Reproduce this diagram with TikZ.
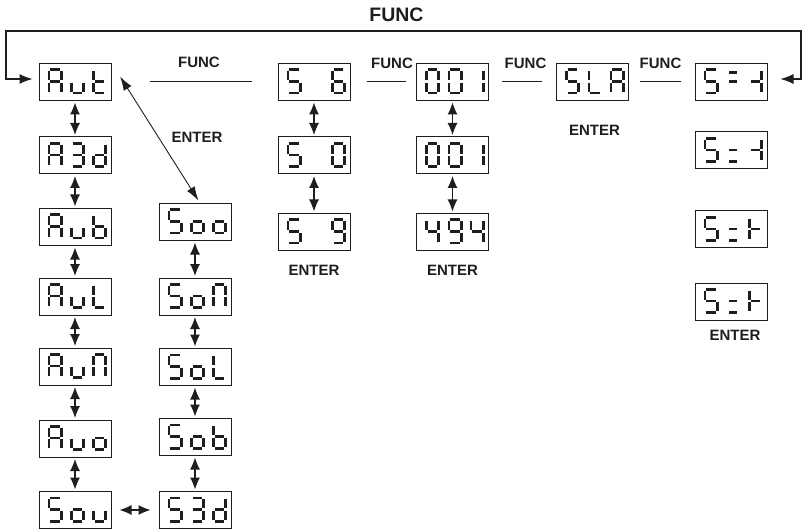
\documentclass[tikz,border=0pt]{standalone}
\usepackage{fontspec}
\setmainfont{Liberation Sans}
\usetikzlibrary{arrows.meta}
\definecolor{ink}{HTML}{1E1E1E}
% seven-segment pieces (glyph cell 15 x 26, y downward)
\def\spa{\draw[seg] (2.9,1.4)--(12.1,1.4);}
\def\spb{\draw[seg] (13.6,2.7)--(13.6,11.9);}
\def\spc{\draw[seg] (13.6,14.1)--(13.6,23.3);}
\def\spd{\draw[seg] (2.9,24.6)--(12.1,24.6);}
\def\spe{\draw[seg] (1.4,14.1)--(1.4,23.3);}
\def\spf{\draw[seg] (1.4,2.7)--(1.4,11.9);}
\def\spg{\draw[seg] (2.9,13)--(12.1,13);}
\def\spp{\draw[seg] (3,4)--(11,4);}
\def\spq{\draw[seg] (3,13)--(11,13);}
\def\spr{\draw[seg] (3,24.6)--(11,24.6);}
\def\gA{a,b,c,e,f,g}
\def\gu{c,d,e}
\def\gt{d,e,f,g}
\def\gThree{a,b,c,d,g}
\def\gd{b,c,d,e,g}
\def\gb{c,d,e,f,g}
\def\gL{d,e,f}
\def\gM{a,b,c,e,f}
\def\go{c,d,e,g}
\def\gS{a,c,d,f,g}
\def\gZero{a,b,c,d,e,f}
\def\gSix{a,c,d,e,f,g}
\def\gNine{a,b,c,d,f,g}
\def\gOne{b,c}
\def\gFour{b,c,f,g}
\def\gRt{b,c,g}
\def\gLt{e,f,g}
\def\gEqU{p,q}
\def\gEqD{q,r}
\def\gNone{x}
\newcommand\segglyph[3]{\begin{scope}[shift={({#1},{#2})}]\foreach \s in #3 {\csname sp\s\endcsname}\end{scope}}
\newcommand\dispbox[6]{%
  \node[dbox] (#1) at (#2,#3) {};
  \segglyph{#2-27.5}{#3-13.5}{#4}
  \segglyph{#2-5}{#3-13.5}{#5}
  \segglyph{#2+17}{#3-13.5}{#6}}
\tikzset{
  seg/.style={draw=ink, line width=2.8pt, line cap=butt},
  dbox/.style={draw=ink, line width=1pt, minimum width=72pt, minimum height=37pt, inner sep=0pt},
  lab/.style={font=\bfseries\fontsize{15}{15}\selectfont, text=ink, inner sep=0pt},
  toplab/.style={font=\bfseries\fontsize{19.5}{19.5}\selectfont, text=ink, inner sep=0pt},
  dbl/.style={{Latex[length=12pt,width=10pt]}-{Latex[length=12pt,width=10pt]}, line width=1.1pt, draw=ink, shorten <=1.5pt, shorten >=1.5pt},
  diag/.style={{Latex[length=14pt,width=9pt]}-{Latex[length=14pt,width=9pt]}, line width=0.9pt, draw=ink},
  fl/.style={draw=ink, line width=1pt},
  loopline/.style={{Latex[length=13pt,width=10pt]}-{Latex[length=13pt,width=10pt]}, line width=1.1pt, draw=ink}
}
\begin{document}
\begin{tikzpicture}[x=1pt,y=-1pt]
\useasboundingbox (0,0) rectangle (805,529);
% left column
\dispbox{aut}{75}{82}{\gA}{\gu}{\gt}
\dispbox{a3d}{75}{155.5}{\gA}{\gThree}{\gd}
\dispbox{aub}{75}{227}{\gA}{\gu}{\gb}
\dispbox{aul}{75}{296.5}{\gA}{\gu}{\gL}
\dispbox{aum}{75}{366.5}{\gA}{\gu}{\gM}
\dispbox{auo}{75}{438.5}{\gA}{\gu}{\go}
\dispbox{sou}{75}{510}{\gS}{\go}{\gu}
% second column
\dispbox{soo}{195}{222}{\gS}{\go}{\go}
\dispbox{som}{195}{296.5}{\gS}{\go}{\gM}
\dispbox{sol}{195}{367}{\gS}{\go}{\gL}
\dispbox{sob}{195}{437}{\gS}{\go}{\gb}
\dispbox{s3d}{195}{510}{\gS}{\gThree}{\gd}
% S column
\dispbox{s6}{314}{82}{\gS}{\gNone}{\gSix}
\dispbox{s0}{314}{155.5}{\gS}{\gNone}{\gZero}
\dispbox{s9}{314}{232}{\gS}{\gNone}{\gNine}
% number column
\dispbox{na}{452.5}{82}{\gZero}{\gZero}{\gOne}
\dispbox{nb}{452.5}{155.5}{\gZero}{\gZero}{\gOne}
\dispbox{nc}{452.5}{232}{\gFour}{\gNine}{\gFour}
% SLA
\dispbox{sla}{592.5}{82}{\gS}{\gL}{\gA}
% right column
\dispbox{ra}{731}{82}{\gS}{\gEqU}{\gRt}
\dispbox{rb}{731}{150.5}{\gS}{\gEqD}{\gRt}
\dispbox{rc}{731}{229.5}{\gS}{\gEqD}{\gLt}
\dispbox{rd}{731}{301.5}{\gS}{\gEqD}{\gLt}
% labels
\node[toplab] (ftop) at (396.5,14.5) {FUNC};
\node[lab] (fa) at (199,62.5) {FUNC};
\node[lab] (fb) at (392,63) {FUNC};
\node[lab] (fc) at (525.5,63) {FUNC};
\node[lab] (fd) at (660.5,63) {FUNC};
\node[lab] (ea) at (197,137) {ENTER};
\node[lab] (eb) at (314,270) {ENTER};
\node[lab] (ec) at (452.5,270) {ENTER};
\node[lab] (ed) at (594.5,130) {ENTER};
\node[lab] (ee) at (735,335.5) {ENTER};
% FUNC lines
\draw[fl] ([xshift=38pt]aut.east) -- ([xshift=-26pt]s6.west);
\draw[fl] ([xshift=16pt]s6.east) -- ([xshift=-10pt]na.west);
\draw[fl] ([xshift=13pt]na.east) -- ([xshift=-14pt]sla.west);
\draw[fl] ([xshift=11pt]sla.east) -- ([xshift=-14pt]ra.west);
% loop
\coordinate (lt) at (6,31);
\coordinate (rt) at (801,31);
\draw[loopline] ([xshift=-6pt,yshift=3pt]aut.west) -| (lt) -- (rt) |- ([xshift=13pt,yshift=3pt]ra.east);
% vertical arrows
\draw[dbl] (aut) -- (a3d);
\draw[dbl] (a3d) -- (aub);
\draw[dbl] (aub) -- (aul);
\draw[dbl] (aul) -- (aum);
\draw[dbl] (aum) -- (auo);
\draw[dbl] (auo) -- (sou);
\draw[dbl] (soo) -- (som);
\draw[dbl] (som) -- (sol);
\draw[dbl] (sol) -- (sob);
\draw[dbl] (sob) -- (s3d);
\draw[dbl] (s6) -- (s0);
\draw[dbl] (s0) -- (s9);
\draw[dbl] (na) -- (nb);
\draw[dbl] (nb) -- (nc);
\draw[dbl, shorten <=8pt, shorten >=8pt] (sou) -- (s3d);
% diagonal
\draw[diag, shorten <=16pt, shorten >=3pt] (aut.north east) -- ([xshift=5pt]soo.north);
\end{tikzpicture}
\end{document}
